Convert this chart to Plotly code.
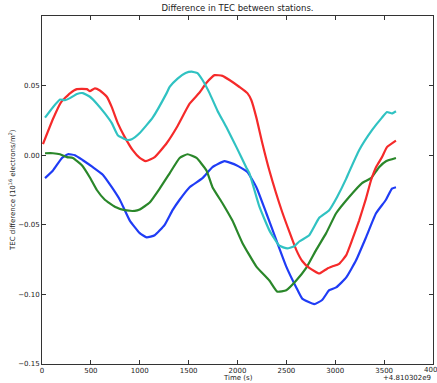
import plotly.graph_objects as go

# Time (s, relative to offset +4.810302e9) and TEC difference values
red_t = [10, 112, 194, 286, 357, 459, 490, 541, 592, 663, 714, 775, 847, 928, 1000, 1061, 1153,
         1275, 1387, 1510, 1612, 1683, 1765, 1846, 1918, 2020, 2101, 2142, 2193, 2254, 2326, 2458,
         2601, 2662, 2734, 2836, 2917, 2968, 3040, 3111, 3172, 3244, 3315, 3366, 3417, 3478, 3529, 3621]
red_v = [0.008, 0.026, 0.038, 0.0445, 0.0475, 0.0475, 0.046, 0.048, 0.0465, 0.042, 0.0345, 0.023,
         0.013, 0.0036, -0.002, -0.0043, -0.0014, 0.0086, 0.021, 0.037, 0.045, 0.052, 0.0575, 0.057,
         0.054, 0.049, 0.0446, 0.0395, 0.027, 0.0086, -0.011, -0.041, -0.068, -0.076, -0.081, -0.085,
         -0.0815, -0.080, -0.078, -0.072, -0.061, -0.047, -0.031, -0.018, -0.0086, -0.0014, 0.0058, 0.0105]

cyan_t = [31, 112, 184, 235, 286, 357, 418, 490, 561, 643, 714, 775, 867, 918, 1000, 1132, 1275,
          1306, 1387, 1469, 1530, 1591, 1642, 1714, 1795, 1887, 1989, 2091, 2122, 2224, 2326, 2428,
          2509, 2581, 2632, 2734, 2836, 2938, 3019, 3111, 3142, 3244, 3376, 3478, 3529, 3580, 3621]
cyan_v = [0.027, 0.0345, 0.040, 0.0395, 0.041, 0.044, 0.0446, 0.042, 0.037, 0.030, 0.023, 0.0144,
          0.011, 0.0115, 0.016, 0.027, 0.0446, 0.049, 0.055, 0.059, 0.060, 0.059, 0.054, 0.0446, 0.032,
          0.020, 0.0058, -0.009, -0.013, -0.037, -0.054, -0.065, -0.067, -0.0654, -0.062, -0.0575,
          -0.045, -0.0395, -0.030, -0.017, -0.012, 0.0036, 0.018, 0.027, 0.031, 0.030, 0.0316]

blue_t = [31, 112, 204, 265, 337, 418, 520, 622, 714, 796, 898, 1000, 1071, 1153, 1255, 1336, 1408,
          1510, 1642, 1744, 1867, 1989, 2101, 2193, 2295, 2397, 2499, 2601, 2662, 2785, 2866, 2938,
          3009, 3111, 3213, 3315, 3417, 3519, 3580, 3621]
blue_v = [-0.0165, -0.011, -0.002, 0.0007, 0.0, -0.0036, -0.0086, -0.014, -0.023, -0.032, -0.047,
          -0.056, -0.059, -0.0575, -0.050, -0.0395, -0.032, -0.023, -0.0165, -0.0086, -0.0043, -0.0072,
          -0.012, -0.023, -0.0417, -0.061, -0.080, -0.095, -0.103, -0.107, -0.104, -0.097, -0.095,
          -0.088, -0.0755, -0.059, -0.0417, -0.032, -0.024, -0.023]

green_t = [31, 112, 184, 255, 316, 408, 490, 561, 643, 745, 847, 949, 1000, 1102, 1204, 1306, 1408,
           1489, 1581, 1683, 1744, 1846, 1948, 2050, 2193, 2326, 2407, 2499, 2601, 2703, 2805, 2907,
           3009, 3142, 3274, 3366, 3448, 3519, 3621]
green_v = [0.0014, 0.0014, 0.0007, -0.0014, -0.002, -0.0072, -0.016, -0.025, -0.032, -0.037, -0.0395,
           -0.040, -0.039, -0.034, -0.024, -0.013, -0.002, 0.0007, -0.002, -0.011, -0.023, -0.0345,
           -0.047, -0.063, -0.080, -0.090, -0.098, -0.097, -0.090, -0.081, -0.068, -0.056, -0.0417,
           -0.030, -0.020, -0.0165, -0.0086, -0.0043, -0.002]

x_ticks = [0, 500, 1000, 1500, 2000, 2500, 3000, 3500, 4000]
y_ticks = [-0.15, -0.10, -0.05, 0.00, 0.05]

FONT = "DejaVu Sans"
TXT = "#222222"

fig = go.Figure()
series = [
    (blue_t, blue_v, "#1f3cf5"),
    (green_t, green_v, "#2a872a"),
    (red_t, red_v, "#f52a2a"),
    (cyan_t, cyan_v, "#30c2c2"),
]
for t, v, c in series:
    fig.add_trace(go.Scatter(x=t, y=v, mode="lines",
                             line=dict(color=c, width=2.2, shape="spline", smoothing=0.4),
                             showlegend=False))

axis_common = dict(showgrid=False, zeroline=False, showline=True, linecolor="#333333", linewidth=1,
                   mirror="ticks", ticks="inside", ticklen=4, tickcolor="#333333",
                   tickfont=dict(family=FONT, size=7, color=TXT))

# last x tick label (4000) is drawn as an annotation so it is cut by the page edge like the reference
fig.update_xaxes(range=[0, 4000], tickvals=x_ticks,
                 ticktext=[str(v) if v != x_ticks[-1] else "" for v in x_ticks], **axis_common)
fig.update_yaxes(range=[-0.15, 0.10], tickvals=y_ticks, tickformat=".2f", **axis_common)

fig.update_layout(
    width=437, height=383,
    margin=dict(l=42, r=4, t=16, b=19),
    plot_bgcolor="white", paper_bgcolor="white",
    font=dict(family=FONT, color=TXT),
    title=dict(text="Difference in TEC between stations.", x=0.5435, xanchor="center",
               y=1 - 8.5 / 383, yanchor="middle", font=dict(family=FONT, size=8.5, color=TXT)),
    annotations=[
        dict(text=str(x_ticks[-1]), xref="x", yref="paper", x=x_ticks[-1], y=0, yshift=-6,
             xanchor="center", yanchor="middle", showarrow=False,
             font=dict(family=FONT, size=7, color=TXT)),
        dict(text="Time (s)", xref="paper", yref="paper", x=0.5, y=0, yshift=-14, yanchor="middle",
             showarrow=False, font=dict(family=FONT, size=7, color=TXT)),
        dict(text="+4.810302e9", xref="paper", yref="paper", x=1, y=0, xanchor="right", yshift=-14,
             yanchor="middle", showarrow=False, font=dict(family=FONT, size=7, color=TXT)),
        dict(text="TEC difference (10<sup>16</sup> electrons/m<sup>2</sup>)", xref="paper", yref="paper",
             x=0, xshift=-30, y=0.5, textangle=-90, xanchor="center", yanchor="middle", showarrow=False,
             font=dict(family=FONT, size=7, color=TXT)),
    ],
)

fig.write_html("out.html")
